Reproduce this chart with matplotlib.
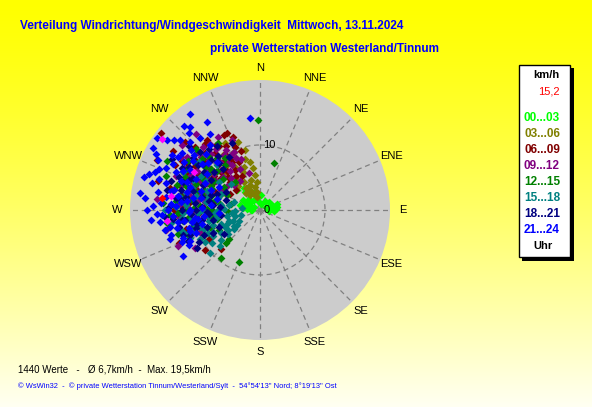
import numpy as np
import matplotlib
matplotlib.use('Agg')
import matplotlib.pyplot as plt

# wind direction (deg, from north clockwise) and speed (km/h) per time slot
dir_00 = [4, 75, 80, 311, 320, 300, 290, 280, 270, 300, 330, 340, 350, 10, 30, 50, 65, 85, 90, 95, 60, 315, 305, 325, 285, 277, 272,
          280, 275, 290, 70, 78, 88, 95, 82, 68, 300]
spd_00 = [2.3, 2.4, 2.6, 4.7, 3.6, 3.0, 2.2, 1.8, 1.4, 1.0, 1.8, 2.8, 1.4, 1.0, 1.6, 1.8, 2.0, 1.8, 1.2, 2.2, 1.0, 2.4, 1.8, 4.2, 3.2, 2.6, 1.2,
          2.8, 2.0, 1.4, 2.8, 1.6, 2.5, 1.4, 2.1, 1.4, 2.6]

dir_03 = [321, 333, 346, 352, 326, 340, 344, 336, 330, 338, 348, 342, 334, 328, 350, 322, 316, 326, 354, 346, 320, 330,
          336, 342, 324, 332, 318, 338, 352, 344, 330, 348]
spd_03 = [13.2, 9.2, 9.5, 5.4, 2.8, 7.0, 8.2, 6.4, 5.0, 4.2, 3.6, 2.4, 3.4, 4.0, 6.6, 6.0, 8.0, 10.2, 4.4, 2.0, 3.4, 7.6,
          9.8, 11.0, 8.6, 11.6, 5.0, 2.8, 2.8, 4.8, 3.0, 7.6]

dir_06 = [308, 225, 248, 296, 302, 308, 314, 320, 326, 332, 338, 342, 300, 306, 312, 318, 324, 330, 336, 294, 300, 308,
          316, 324, 332, 288, 282, 276, 270, 264, 256, 252, 290, 298, 310, 280, 272, 266, 260, 304, 296, 286, 312, 240, 234,
          294, 298, 304, 310, 316, 322, 328, 334, 340, 286, 292, 300, 306, 314, 320, 328, 278, 284, 262, 270,
          291, 297, 303, 309, 317, 323, 331, 287, 281, 273, 313, 327, 337]
spd_06 = [19.3, 8.5, 13.4, 13.0, 14.2, 12.6, 14.0, 13.2, 12.0, 11.2, 10.4, 9.6, 11.0, 10.0, 11.6, 10.2, 9.4, 8.6, 8.0, 9.4, 8.4, 7.8,
          7.0, 6.4, 6.0, 10.4, 12.2, 11.0, 13.2, 12.2, 11.8, 10.6, 6.6, 5.2, 4.8, 7.2, 8.6, 9.6, 7.8, 16.2, 17.6, 16.4, 15.6, 9.0, 10.4,
          11.8, 14.8, 12.0, 9.4, 12.2, 11.2, 10.2, 12.8, 12.0, 8.6, 7.4, 10.0, 8.8, 8.4, 7.8, 7.2, 9.8, 14.2, 10.2, 10.8,
          10.9, 12.5, 13.3, 11.1, 9.5, 13.5, 9.1, 12.9, 11.3, 12.1, 6.3, 11.7, 12.9]

dir_09 = [246, 300, 306, 312, 318, 324, 330, 336, 296, 302, 310, 316, 322, 328, 334, 290, 298, 306, 314, 280, 286, 274,
          268, 262, 256, 250, 240, 292, 284, 320, 340, 344, 326, 258, 276,
          296, 302, 308, 314, 320, 326, 332, 338, 290, 284, 278, 272, 266, 304, 312, 318, 300, 288, 310, 330,
          293, 299, 307, 313, 319, 327, 281, 287, 303, 297, 323, 335]
spd_09 = [13.8, 12.8, 13.8, 12.2, 13.0, 11.6, 10.6, 9.8, 10.2, 9.4, 10.6, 8.6, 7.6, 8.2, 7.0, 8.0, 7.0, 6.2, 5.6, 9.6, 11.2, 12.4,
          10.0, 8.8, 10.4, 9.8, 11.6, 14.0, 13.6, 15.2, 8.4, 6.0, 5.4, 14.8, 16.0,
          12.0, 11.4, 9.0, 11.0, 9.6, 8.8, 9.6, 11.6, 10.6, 9.6, 8.6, 11.2, 12.6, 14.6, 7.6, 6.6, 6.6, 12.6, 15.6, 13.0,
          11.3, 13.3, 10.3, 13.1, 11.5, 10.1, 10.9, 8.9, 8.1, 9.1, 12.7, 8.9]

dir_12 = [359, 17, 202, 219, 227, 226, 260, 264, 268, 272, 276, 280, 284, 288, 292, 296, 300, 304, 308, 312, 316, 322,
          328, 270, 278, 286, 294, 302, 310, 258, 250, 244, 254, 262, 274, 290, 298, 282, 266, 318,
          256, 262, 266, 270, 274, 278, 282, 286, 290, 294, 298, 302, 306, 310, 314, 320, 326, 246, 252, 280,
          271, 279, 287, 293, 299, 305, 263, 257, 283, 311, 267, 275]
spd_12 = [13.8, 7.5, 8.6, 9.5, 6.6, 7.2, 9.4, 11.0, 12.6, 10.2, 13.0, 11.6, 9.0, 12.0, 10.6, 8.4, 11.8, 13.4, 10.8, 9.0, 11.4, 8.8,
          12.2, 7.4, 6.2, 7.8, 5.6, 6.6, 7.4, 6.8, 8.0, 7.0, 13.2, 14.4, 15.0, 15.4, 16.2, 4.6, 5.0, 5.8,
          10.8, 12.0, 8.4, 11.4, 9.2, 10.6, 13.8, 10.2, 9.2, 12.6, 10.0, 8.4, 12.2, 9.8, 13.6, 10.4, 9.6, 9.4, 11.8, 7.8,
          8.1, 12.3, 13.3, 8.1, 12.9, 9.7, 7.5, 9.9, 6.9, 11.9, 13.9, 11.5]

dir_15 = [229, 234, 240, 246, 250, 254, 258, 262, 266, 270, 274, 278, 282, 286, 260, 248, 242, 238, 244, 252, 256, 264,
          272, 280, 290, 294, 300, 308, 316, 268, 256, 276, 288, 232, 228, 262, 270, 296, 304, 312,
          236, 240, 248, 252, 258, 262, 268, 272, 276, 280, 284, 288, 292, 298, 244, 250, 256, 264, 270, 236,
          245, 251, 259, 267, 277, 253, 241, 233, 263, 283, 247, 239]
spd_15 = [10.1, 5.0, 7.0, 8.8, 6.4, 9.6, 8.0, 10.8, 7.0, 9.0, 11.4, 8.4, 10.0, 6.8, 5.2, 4.4, 3.6, 5.8, 10.2, 11.0, 12.6, 12.0,
          5.6, 4.8, 8.6, 11.2, 10.4, 12.0, 9.6, 3.8, 3.0, 2.8, 4.2, 7.6, 8.2, 13.6, 14.6, 13.2, 7.6, 6.0,
          9.0, 9.8, 11.6, 7.6, 10.4, 6.6, 11.8, 13.0, 10.0, 12.6, 8.2, 11.0, 6.4, 9.4, 6.0, 5.0, 4.0, 4.4, 6.4, 4.2,
          7.9, 9.1, 7.1, 9.5, 6.1, 12.3, 8.3, 6.1, 8.1, 11.7, 5.3, 4.7]

dir_18 = [239, 337, 282, 290, 298, 306, 314, 322, 330, 270, 262, 254, 246, 276, 286, 294, 302, 310, 318, 268, 280, 290,
          258, 274, 286, 298, 244, 252, 264, 300, 312, 320, 284, 262, 236,
          272, 278, 266, 258, 250, 242, 288, 296, 304, 292, 280, 270, 260, 308, 316, 326, 276, 266, 252, 248,
          283, 277, 293, 301, 267, 257, 287, 273, 309, 319, 247, 263]
spd_18 = [11.3, 11.2, 14.6, 12.6, 13.6, 11.8, 12.8, 10.6, 9.4, 12.0, 11.6, 10.2, 9.4, 10.0, 10.8, 9.6, 8.8, 9.2, 8.4, 8.2, 8.0, 7.0,
          7.4, 6.2, 5.4, 6.0, 8.0, 12.4, 13.4, 15.6, 14.6, 12.2, 12.6, 6.0, 6.6,
          14.0, 13.0, 14.6, 12.8, 11.4, 10.6, 14.4, 11.4, 10.4, 13.4, 11.6, 9.8, 9.0, 13.0, 10.8, 11.8, 7.2, 7.8, 8.6, 6.8,
          9.1, 12.3, 11.9, 12.7, 10.7, 9.9, 7.9, 8.9, 11.3, 9.5, 12.1, 12.1]

dir_21 = [324, 329, 320, 305, 309, 311, 300, 327, 239, 254, 263, 354, 296, 292, 288, 284, 280, 276, 272, 268, 265, 298,
          302, 306, 294, 286, 282, 278, 274, 270, 266, 262, 258, 250, 246, 256, 260, 290, 300, 310, 316, 320, 312, 296,
          284, 276, 268, 288, 280, 272, 264, 304, 318, 292, 276, 284, 266, 300,
          262, 258, 252, 248, 244, 270, 274, 278, 286, 290, 294, 298, 302, 306, 314, 318, 322, 308, 288, 280, 270, 262,
          256, 250, 296,
          283, 277, 291, 267, 259, 287, 273, 297, 311, 303, 263, 253, 281, 307, 317]
spd_21 = [18.2, 15.8, 16.7, 19.4, 17.0, 16.4, 19.0, 14.0, 13.8, 14.2, 15.5, 14.2, 17.5, 16.8, 18.0, 17.2, 16.0, 17.8, 16.5, 15.8, 16.8, 15.2,
          16.0, 14.8, 14.2, 15.0, 14.0, 14.6, 13.8, 14.2, 13.4, 12.8, 13.0, 12.6, 11.8, 11.2, 10.6, 13.0, 12.4, 13.2, 12.0, 14.4, 10.8, 11.0,
          11.6, 12.2, 11.0, 9.6, 10.4, 9.0, 8.6, 9.8, 10.0, 8.2, 7.6, 6.8, 6.4, 7.2,
          11.8, 15.0, 14.6, 13.0, 12.2, 17.4, 15.2, 18.6, 18.6, 17.2, 15.8, 18.2, 13.8, 12.8, 15.0, 17.4, 12.6, 11.4, 11.4, 12.8, 10.8, 9.6,
          9.2, 10.4, 9.4,
          13.5, 11.3, 12.1, 15.1, 14.1, 16.3, 12.9, 13.3, 14.1, 15.1, 10.1, 11.3, 9.3, 17.9, 16.1]

dir_max = [306, 263, 279, 300]
spd_max = [18.7, 14.4, 13.9, 11.8]
dir_red = [277]
spd_red = [15.2]

slot_labels = ['00...03', '03...06', '06...09', '09...12', '12...15', '15...18', '18...21', '21...24']
slot_colors = ['#00ff00', '#808000', '#800000', '#800080', '#008000', '#008080', '#000080', '#0000ff']
slots = [(dir_00, spd_00), (dir_03, spd_03), (dir_06, spd_06), (dir_09, spd_09),
         (dir_12, spd_12), (dir_15, spd_15), (dir_18, spd_18), (dir_21, spd_21)]

compass = ['N', 'NNE', 'NE', 'ENE', 'E', 'ESE', 'SE', 'SSE', 'S', 'SSW', 'SW', 'WSW', 'W', 'WNW', 'NW', 'NNW']

fig = plt.figure(figsize=(5.92, 4.07), dpi=100)

# yellow background gradient
bg = fig.add_axes([0, 0, 1, 1])
grad = np.linspace(0, 1, 256) ** 1.3
img = np.ones((256, 1, 3))
img[:, 0, 2] = grad * 0.95
bg.imshow(img, aspect='auto', extent=[0, 1, 0, 1], origin='upper')
bg.set_axis_off()

ax = fig.add_axes([130 / 592, 67 / 407, 260 / 592, 260 / 407], projection='polar')
ax.set_theta_zero_location('N')
ax.set_theta_direction(-1)
ax.set_facecolor('#cccccc')
ax.set_ylim(0, 20)
ax.set_yticks([10])
ax.set_xticks(np.deg2rad(np.arange(0, 360, 22.5)))
ax.set_xticklabels([])
ax.set_yticklabels([])
ax.grid(True, color='#808080', linestyle=(0, (4, 3)), linewidth=0.9)
ax.spines['polar'].set_visible(False)

for (d, s), c in zip(slots, slot_colors):
    ax.scatter(np.deg2rad(d), s, marker='D', s=16, color=c, linewidths=0, zorder=3)
ax.scatter(np.deg2rad(dir_max), spd_max, marker='D', s=16, color='#ff00ff', linewidths=0, zorder=3)
ax.scatter(np.deg2rad(dir_red), spd_red, marker='D', s=16, color='#ff0000', linewidths=0, zorder=3)

for i, name in enumerate(compass):
    ax.text(np.deg2rad(i * 22.5), 21.9, name, ha='center', va='center', fontsize=8,
            family='Liberation Sans', clip_on=False)
ax.text(np.deg2rad(3), 10, '10', ha='left', va='center', fontsize=8, family='Liberation Sans', zorder=4)
ax.text(np.deg2rad(90), 0.6, '0', ha='left', va='center', fontsize=8, family='Liberation Sans', zorder=4)

# titles
fig.text(20 / 592, 1 - 26 / 407, 'Verteilung Windrichtung/Windgeschwindigkeit  Mittwoch, 13.11.2024',
         color='#0000ff', fontsize=8.5, fontweight='bold', family='Liberation Sans', va='center')
fig.text(210 / 592, 1 - 49 / 407, 'private Wetterstation Westerland/Tinnum',
         color='#0000ff', fontsize=8.5, fontweight='bold', family='Liberation Sans', va='center')
fig.text(18 / 592, 1 - 369 / 407, '1440 Werte   -   Ø 6,7km/h  -  Max. 19,5km/h',
         color='black', fontsize=7, family='Liberation Sans', va='center')
fig.text(18 / 592, 1 - 386 / 407,
         "© WsWin32  -  © private Wetterstation Tinnum/Westerland/Sylt  -  54°54'13'' Nord; 8°19'13'' Ost",
         color='#0000ff', fontsize=5.4, family='Liberation Sans', va='center')

# legend box with shadow
lg = fig.add_axes([0, 0, 1, 1], facecolor='none')
lg.set_xlim(0, 592)
lg.set_ylim(407, 0)
lg.set_axis_off()
lg.add_patch(plt.Rectangle((522, 68), 52, 193, facecolor='black', edgecolor='none'))
lg.add_patch(plt.Rectangle((519, 65), 51, 192, facecolor='white', edgecolor='black', linewidth=1))
lg.text(546, 75, 'km/h', ha='center', va='center', fontsize=8, fontweight='bold', family='Liberation Sans')
lg.text(560, 92, '15,2', ha='right', va='center', fontsize=8, color='#ff0000', family='Liberation Sans')
for i, (lab, c) in enumerate(zip(slot_labels, slot_colors)):
    lg.text(542, 118 + 16 * i, lab, ha='center', va='center', fontsize=8.5, fontweight='bold',
            color=c, family='Liberation Sans')
lg.text(543, 246, 'Uhr', ha='center', va='center', fontsize=8, fontweight='bold', family='Liberation Sans')

fig.savefig('out.png', dpi=100)
